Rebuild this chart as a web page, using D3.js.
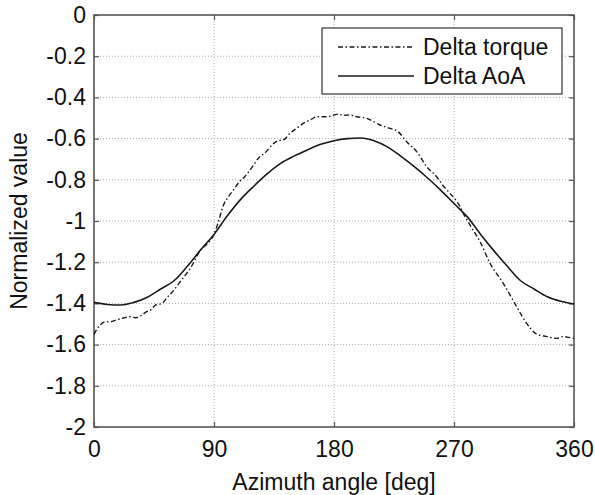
<!DOCTYPE html>
<html>
<head>
<meta charset="utf-8">
<script src="https://cdn.jsdelivr.net/npm/d3@7"></script>
<style>
	body { margin: 0; background: #fff; }
	svg text { font-family: 'Liberation Sans', Arial, sans-serif; fill: #111; }
</style>
</head>
<body>
<div class="chart"></div>
<script>
// data
const xTicks = [0, 90, 180, 270, 360];
const yTicks = [0, -0.2, -0.4, -0.6, -0.8, -1, -1.2, -1.4, -1.6, -1.8, -2];

const aoaAngle = [0, 10, 20, 30, 40, 50, 60, 70, 80, 90, 100, 110, 120, 130, 140, 150, 160, 170, 180,
	190, 200, 210, 220, 230, 240, 250, 260, 270, 280, 290, 300, 310, 320, 330, 340, 350, 360];
const aoaValue = [-1.395, -1.405, -1.408, -1.395, -1.37, -1.33, -1.29, -1.22, -1.14, -1.065, -0.975,
	-0.895, -0.83, -0.77, -0.72, -0.685, -0.655, -0.628, -0.61, -0.6, -0.597, -0.61, -0.64, -0.685,
	-0.735, -0.79, -0.85, -0.915, -0.98, -1.065, -1.145, -1.22, -1.29, -1.33, -1.368, -1.39, -1.403];

const torqueAngle = [0, 4.5, 8, 12, 17, 22, 28, 31, 35, 39.5, 43, 46, 51, 55, 59, 64, 69.5, 74, 77, 80,
	85, 90, 93, 97, 101, 104.5, 109, 113, 119, 124, 128, 134.5, 138, 142, 147, 152, 157, 162, 167,
	174.5, 179, 183, 187, 192, 197, 204.5, 209, 214.5, 222, 228, 234.5, 242, 249.5, 257, 262, 267,
	274.5, 277, 283, 289.5, 297, 307, 317, 324.5, 332, 339.5, 347, 352, 356, 360];
const torqueValue = [-1.55, -1.505, -1.49, -1.489, -1.48, -1.471, -1.464, -1.47, -1.46, -1.44, -1.43,
	-1.408, -1.4, -1.37, -1.343, -1.3, -1.254, -1.21, -1.173, -1.141, -1.11, -1.065, -1.01, -0.925,
	-0.88, -0.85, -0.81, -0.785, -0.735, -0.69, -0.671, -0.625, -0.61, -0.607, -0.574, -0.55, -0.526,
	-0.51, -0.494, -0.494, -0.488, -0.481, -0.487, -0.485, -0.494, -0.502, -0.515, -0.534, -0.55,
	-0.566, -0.615, -0.663, -0.736, -0.785, -0.83, -0.866, -0.93, -0.963, -1.03, -1.1, -1.205, -1.303,
	-1.416, -1.497, -1.549, -1.561, -1.57, -1.561, -1.565, -1.57];

const seriesNames = ['Delta torque', 'Delta AoA'];

const margin = { top: 15, right: 21, bottom: 68, left: 94 };
const svgWidth = 595;
const svgHeight = 495;
const width = svgWidth - margin.left - margin.right;
const height = svgHeight - margin.top - margin.bottom;
const axisColor = '#555';
const lineColor = '#1a1a1a';
const torqueDash = '5,2.5,1.5,2.5';
const fontSize = '23px';

const svg = d3
	.select('.chart')
	.append('svg')
	.attr('width', svgWidth)
	.attr('height', svgHeight)
	.append('g')
	.attr('transform', 'translate(' + margin.left + ',' + margin.top + ')');

const x = d3.scaleLinear().domain([0, 360]).range([0, width]);
const y = d3.scaleLinear().domain([-2, 0]).range([height, 0]);

// dotted grid
svg.append('g').selectAll('line').data(xTicks.slice(1, -1)).enter().append('line')
	.attr('x1', (d) => x(d)).attr('x2', (d) => x(d))
	.attr('y1', 0).attr('y2', height)
	.attr('stroke', '#aaa').attr('stroke-width', 1).attr('stroke-dasharray', '1,2');
svg.append('g').selectAll('line').data(yTicks.slice(1, -1)).enter().append('line')
	.attr('y1', (d) => y(d)).attr('y2', (d) => y(d))
	.attr('x1', 0).attr('x2', width)
	.attr('stroke', '#aaa').attr('stroke-width', 1).attr('stroke-dasharray', '1,2');

// axes with inward ticks on all four sides
const fmt = (d) => (d === 0 ? '0' : String(d));
const xAxis = d3.axisBottom(x).tickValues(xTicks).tickSize(-5).tickPadding(14).tickFormat(fmt);
const yAxis = d3.axisLeft(y).tickValues(yTicks).tickSize(-5).tickPadding(8).tickFormat(fmt);
const xTop = d3.axisTop(x).tickValues(xTicks).tickSize(-5).tickFormat('');
const yRight = d3.axisRight(y).tickValues(yTicks).tickSize(-5).tickFormat('');

function styleAxis(g) {
	g.selectAll('.domain').remove();
	g.selectAll('line').attr('stroke', axisColor).attr('stroke-width', 1.2);
	g.selectAll('text').style('font-size', fontSize).style('font-family', "'Liberation Sans', Arial, sans-serif").attr('fill', '#111');
}
svg.append('g').attr('transform', 'translate(0,' + height + ')').call(xAxis).call(styleAxis);
svg.append('g').call(yAxis).call(styleAxis);
svg.append('g').call(xTop).call(styleAxis);
svg.append('g').attr('transform', 'translate(' + width + ',0)').call(yRight).call(styleAxis);

// box
svg.append('rect').attr('width', width).attr('height', height)
	.attr('fill', 'none').attr('stroke', axisColor).attr('stroke-width', 1.6);

// curves
const line = d3.line().x((d) => x(d[0])).y((d) => y(d[1])).curve(d3.curveMonotoneX);
const torque = torqueAngle.map((a, i) => [a, torqueValue[i]]);
const aoa = aoaAngle.map((a, i) => [a, aoaValue[i]]);

svg.append('path').datum(torque).attr('d', line)
	.attr('fill', 'none').attr('stroke', lineColor).attr('stroke-width', 1.4)
	.attr('stroke-dasharray', torqueDash);
svg.append('path').datum(aoa).attr('d', line)
	.attr('fill', 'none').attr('stroke', lineColor).attr('stroke-width', 1.6);

// legend
const legend = svg.append('g').attr('transform', 'translate(' + (322 - margin.left) + ',' + (28 - margin.top) + ')');
legend.append('rect').attr('width', 240).attr('height', 66)
	.attr('fill', '#fff').attr('stroke', '#333').attr('stroke-width', 1.2);
seriesNames.forEach((name, i) => {
	const ly = 19 + i * 29;
	legend.append('line').attr('x1', 16).attr('x2', 92).attr('y1', ly).attr('y2', ly)
		.attr('stroke', lineColor).attr('stroke-width', 1.3)
		.attr('stroke-dasharray', i === 0 ? torqueDash : null);
	legend.append('text').attr('x', 101).attr('y', ly + 8).style('font-size', fontSize).text(name);
});

// axis labels
svg.append('text')
	.attr('transform', 'translate(' + width / 2 + ',' + (height + 63) + ')')
	.style('text-anchor', 'middle').style('font-size', fontSize)
	.text('Azimuth angle [deg]');
svg.append('text')
	.attr('transform', 'rotate(-90)')
	.attr('x', -height / 2).attr('y', -67)
	.style('text-anchor', 'middle').style('font-size', fontSize)
	.text('Normalized value');
</script>
</body>
</html>
